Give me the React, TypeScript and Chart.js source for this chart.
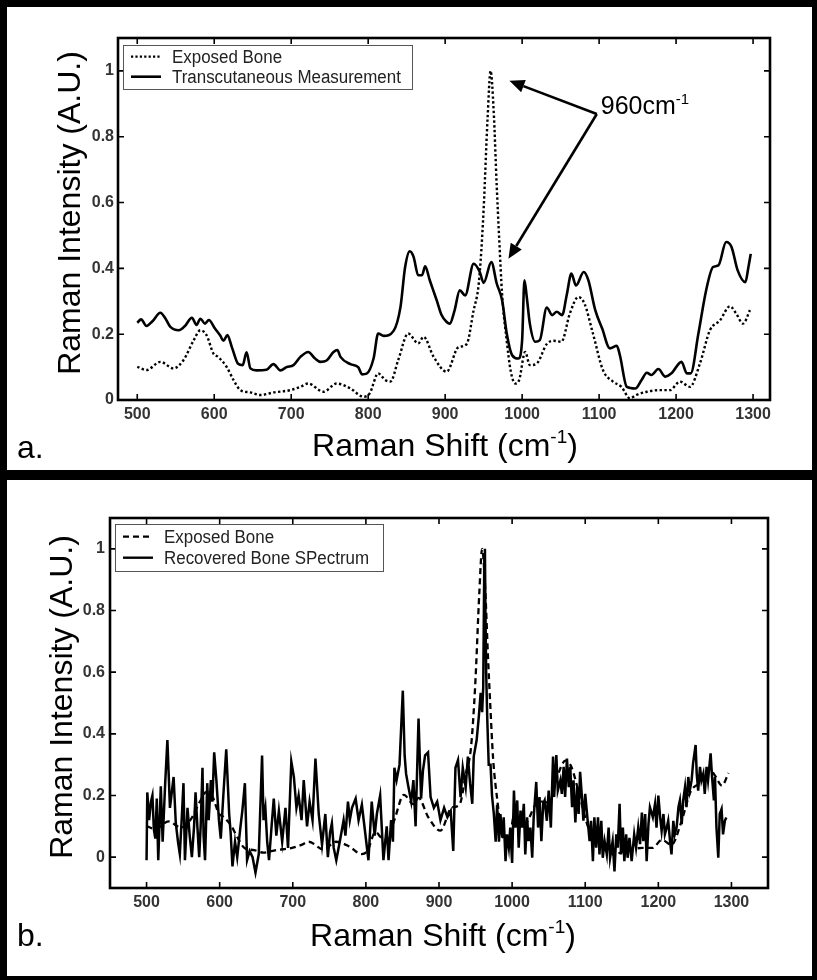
import React, { useEffect, useRef } from 'react';
import { Chart, registerables } from 'chart.js';

Chart.register(...registerables);

// ---------- data ----------
const xTickValues = [500, 600, 700, 800, 900, 1000, 1100, 1200, 1300];
const yTickValues = [0, 0.2, 0.4, 0.6, 0.8, 1];

const legendA = ['Exposed Bone', 'Transcutaneous Measurement'];
const legendB = ['Exposed Bone', 'Recovered Bone SPectrum'];
const yAxisTitle = 'Raman Intensity (A.U.)';
const xAxisTitle = 'Raman Shift (cm';
const xAxisTitleSup = '-1';
const peakLabel = '960cm';
const peakLabelSup = '-1';
const panelLabels = ['a.', 'b.'];

// [Raman shift (cm-1), intensity]
const exposedBone: [number, number][] = [
  [500, 0.101], [512, 0.091], [530, 0.116], [547, 0.096], [560, 0.121], [573, 0.18], [582, 0.212],
  [590, 0.197], [599, 0.141], [605, 0.131], [616, 0.101], [625, 0.061], [634, 0.03], [647, 0.023],
  [660, 0.015], [677, 0.023], [699, 0.03], [712, 0.04], [722, 0.05], [742, 0.025], [759, 0.05],
  [777, 0.035], [794, 0.01], [802, 0.02], [813, 0.081], [822, 0.061], [829, 0.056], [839, 0.121],
  [852, 0.202], [865, 0.172], [872, 0.192], [885, 0.131], [902, 0.086], [917, 0.16], [928, 0.17],
  [937, 0.273], [943, 0.34], [946, 0.42], [950, 0.58], [955, 0.85], [959, 1.0], [963, 0.88],
  [967, 0.65], [970, 0.5], [974, 0.32], [980, 0.18], [985, 0.09], [991, 0.05], [996, 0.06],
  [1004, 0.146], [1010, 0.106], [1019, 0.111], [1032, 0.17], [1041, 0.18], [1051, 0.177],
  [1062, 0.263], [1073, 0.313], [1081, 0.293], [1092, 0.202], [1105, 0.091], [1118, 0.056],
  [1129, 0.04], [1140, 0.005], [1148, 0.015], [1162, 0.025], [1179, 0.03], [1192, 0.03],
  [1205, 0.056], [1218, 0.04], [1231, 0.111], [1244, 0.212], [1257, 0.242], [1270, 0.285],
  [1278, 0.263], [1287, 0.232], [1296, 0.273],
];

const transcutaneous: [number, number][] = [
  [500, 0.235], [505, 0.245], [512, 0.225], [520, 0.24], [530, 0.265], [536, 0.25], [543, 0.222],
  [554, 0.212], [562, 0.225], [571, 0.25], [577, 0.228], [582, 0.247], [588, 0.232], [593, 0.243],
  [601, 0.217], [608, 0.195], [612, 0.18], [617, 0.197], [623, 0.16], [631, 0.11], [637, 0.106],
  [642, 0.145], [647, 0.096], [655, 0.09], [668, 0.092], [677, 0.109], [686, 0.09], [694, 0.1],
  [703, 0.106], [712, 0.131], [722, 0.146], [731, 0.126], [738, 0.116], [746, 0.12], [755, 0.146],
  [760, 0.152], [764, 0.131], [777, 0.109], [787, 0.1], [792, 0.078], [798, 0.08], [807, 0.126],
  [813, 0.202], [820, 0.195], [833, 0.21], [842, 0.283], [848, 0.404], [854, 0.452], [859, 0.435],
  [865, 0.379], [870, 0.379], [874, 0.406], [880, 0.364], [889, 0.303], [895, 0.26], [902, 0.237],
  [906, 0.232], [912, 0.27], [919, 0.333], [926, 0.318], [937, 0.414], [945, 0.389], [950, 0.356],
  [960, 0.419], [967, 0.354], [974, 0.303], [980, 0.202], [987, 0.136], [995, 0.126], [1000, 0.182],
  [1003, 0.364], [1006, 0.313], [1010, 0.232], [1017, 0.177], [1023, 0.182], [1032, 0.281],
  [1039, 0.258], [1045, 0.268], [1052, 0.258], [1058, 0.32], [1064, 0.384], [1070, 0.348],
  [1080, 0.389], [1086, 0.364], [1095, 0.273], [1104, 0.217], [1114, 0.157], [1123, 0.165],
  [1127, 0.136], [1136, 0.04], [1147, 0.035], [1155, 0.06], [1162, 0.083], [1168, 0.076],
  [1177, 0.094], [1186, 0.071], [1194, 0.081], [1207, 0.116], [1214, 0.081], [1219, 0.081],
  [1229, 0.202], [1239, 0.333], [1248, 0.404], [1255, 0.409], [1265, 0.48], [1272, 0.465],
  [1280, 0.394], [1290, 0.358], [1294, 0.404], [1297, 0.444],
];

const recoveredSpectrum: [number, number][] = [
  [500, -0.01], [501, 0.21], [503.5, 0.12], [506, 0.18], [508, 0.2], [510, 0.09], [512, 0.06],
  [514, 0.19], [516, -0.01], [519.5, 0.23], [522, 0.05], [525.5, 0.24], [528.5, 0.38], [532, 0.16],
  [534, 0.2], [537, 0.26], [540, 0.11], [543, 0.05], [545.5, 0.01], [548, 0.12], [550.5, 0.24],
  [552.5, -0.01], [556, 0.16], [559, 0.07], [562, 0.0], [565, 0.1], [567, 0.21], [569.5, 0.1],
  [572, 0.0], [574, 0.1], [576.5, 0.29], [578, 0.07], [580, -0.01], [583, 0.24], [585, 0.12],
  [588, 0.25], [590, 0.18], [592.5, 0.34], [595.5, 0.25], [599, 0.12], [601.5, 0.06], [605, 0.2],
  [609, 0.35], [613, 0.14], [615, 0.08], [617.5, -0.03], [621, 0.05], [624, 0.0], [628.5, 0.1],
  [631, 0.15], [634.5, 0.24], [637.5, -0.01], [641, 0.02], [645, 0.0], [649, -0.05], [653.5, 0.01],
  [658, 0.33], [660, 0.12], [662.5, 0.16], [665, 0.05], [667.5, -0.01], [671, 0.1], [674, 0.19],
  [677.5, 0.07], [681, 0.15], [685.5, 0.05], [690, 0.16], [693.5, 0.03], [698, 0.31], [701.5, 0.26],
  [705, 0.16], [708, 0.2], [712, 0.12], [715, 0.25], [719.5, 0.1], [723, 0.18], [727, 0.12],
  [731, 0.32], [735.5, 0.14], [740, 0.04], [744.5, 0.14], [748, 0.0], [751, 0.08], [753.5, 0.11],
  [756, 0.03], [759.5, -0.01], [765, 0.06], [769.5, 0.12], [772, 0.07], [775.5, 0.18], [778, 0.12],
  [781, 0.16], [786, 0.19], [790, 0.12], [794.5, 0.17], [799, 0.08], [803.5, -0.01], [808, 0.18],
  [812, 0.07], [815, 0.14], [819.5, 0.2], [824, -0.01], [828.5, 0.1], [831, -0.01], [834.5, 0.12],
  [837, 0.05], [839, 0.29], [842, 0.25], [846, 0.3], [850.5, 0.54], [853, 0.33], [855, 0.27],
  [858, 0.23], [862, 0.18], [865, 0.25], [868, 0.1], [872, 0.45], [875.5, 0.19], [878, 0.28],
  [881, 0.33], [885, 0.34], [888.5, 0.195], [893, 0.16], [897.5, 0.18], [902, 0.12], [907, 0.16],
  [911.5, 0.13], [916, 0.15], [919.5, 0.02], [922.5, 0.29], [926, 0.315], [929.5, 0.195],
  [932.5, 0.29], [936.5, 0.227], [939.5, 0.326], [942.5, 0.24], [945.5, 0.173], [947.5, 0.326],
  [951.5, 0.38], [954.5, 0.457], [957, 0.533], [959, 0.47], [960.5, 0.55], [962, 0.97],
  [962.8, 1.0], [963.5, 0.8], [964.5, 0.6], [966, 0.45], [968, 0.3], [970.5, 0.3], [972.5, 0.2],
  [975, 0.14], [977.5, 0.05], [979.5, 0.17], [982, 0.05], [984, 0.14], [986.5, 0.063],
  [988.5, 0.129], [991, -0.013], [993, 0.074], [995.5, 0.031], [997.5, 0.096], [1000, -0.019],
  [1002.5, 0.216], [1004.5, 0.096], [1007, 0.184], [1009, 0.031], [1011.5, 0.151], [1013.5, 0.096],
  [1016, 0.173], [1018, 0.009], [1020.5, 0.129], [1022.5, 0.052], [1025, 0.096], [1027.5, -0.002],
  [1029.5, 0.129], [1033, 0.244], [1035.5, 0.096], [1037.5, 0.195], [1040, 0.052], [1042.5, 0.173],
  [1044.5, 0.184], [1047.5, 0.118], [1050, 0.216], [1053, 0.096], [1056, 0.326], [1057.5, 0.195],
  [1060.5, 0.331], [1062.5, 0.216], [1066, 0.249], [1068, 0.205], [1070.5, 0.293], [1072.5, 0.195],
  [1075, 0.32], [1077.5, 0.227], [1079.5, 0.293], [1082, 0.162], [1084, 0.249], [1086.5, 0.113],
  [1089, 0.227], [1091, 0.14], [1093, 0.277], [1095.5, 0.195], [1097.5, 0.118], [1100, 0.205],
  [1102.5, 0.14], [1106, 0.052], [1108, 0.118], [1110.5, -0.013], [1112.5, 0.129], [1115, 0.031],
  [1117.5, 0.129], [1119.5, 0.009], [1122, 0.118], [1124, -0.002], [1126.5, 0.052], [1129.5, 0.009],
  [1132, 0.096], [1134, -0.002], [1137.5, 0.052], [1140, -0.046], [1142.5, 0.074], [1144.5, 0.031],
  [1147, 0.173], [1149, 0.009], [1151.5, 0.096], [1153.5, -0.013], [1156, 0.074], [1158, -0.002],
  [1160.5, 0.063], [1163.5, -0.013], [1167, 0.074], [1169.5, 0.031], [1172.5, 0.096], [1175, 0.042],
  [1177.5, 0.145], [1179.5, 0.052], [1182, 0.14], [1184, -0.013], [1186.5, 0.107], [1188.5, 0.162],
  [1192.5, 0.129], [1195.5, 0.173], [1197.5, 0.096], [1200, 0.2], [1202.5, 0.129], [1204.5, 0.085],
  [1207, 0.14], [1209, 0.074], [1211.5, 0.096], [1213.5, 0.118], [1216, 0.052], [1218, 0.009],
  [1220.5, 0.118], [1222.5, 0.074], [1225, 0.096], [1227.5, 0.162], [1229.5, 0.184], [1232, 0.107],
  [1234, 0.184], [1236.5, 0.227], [1238.5, 0.162], [1241, 0.26], [1243, 0.216], [1245.5, 0.249],
  [1247.5, 0.304], [1251, 0.364], [1252.5, 0.271], [1254.5, 0.216], [1257, 0.293], [1259, 0.249],
  [1261.5, 0.271], [1263.5, 0.205], [1266, 0.293], [1268, 0.249], [1271.5, 0.337], [1273.5, 0.26],
  [1276, 0.184], [1277.5, 0.26], [1279.5, 0.096], [1282, -0.002], [1284, 0.14], [1286.5, 0.156],
  [1288.5, 0.074], [1291, 0.118], [1293, 0.129],
];

// annotation anchor (data coords of panel a)
const peakArrowFrom: [number, number] = [1097, 0.869];
const peakArrowTips: [number, number][] = [[983.5, 0.97], [982.2, 0.429]];

// ---------- drawing helpers ----------
const FONT = 'Arial, "Liberation Sans", Helvetica, sans-serif';

type Part = { text: string; sup?: boolean };

function drawParts(ctx: CanvasRenderingContext2D, parts: Part[], x: number, y: number, size: number, align: 'left' | 'center') {
  const supSize = Math.round(size * 0.6);
  const widths = parts.map((p) => {
    ctx.font = `${p.sup ? supSize : size}px ${FONT}`;
    return ctx.measureText(p.text).width;
  });
  const total = widths.reduce((a, b) => a + b, 0);
  let cx = align === 'center' ? x - total / 2 : x;
  ctx.textAlign = 'left';
  ctx.textBaseline = 'alphabetic';
  parts.forEach((p, i) => {
    ctx.font = `${p.sup ? supSize : size}px ${FONT}`;
    ctx.fillText(p.text, cx, p.sup ? y - size * 0.4 : y);
    cx += widths[i];
  });
}

function drawArrow(ctx: CanvasRenderingContext2D, x0: number, y0: number, x1: number, y1: number) {
  const ang = Math.atan2(y1 - y0, x1 - x0);
  const headLen = 15;
  const headHalf = 6.5;
  const bx = x1 - headLen * Math.cos(ang);
  const by = y1 - headLen * Math.sin(ang);
  ctx.beginPath();
  ctx.moveTo(x0, y0);
  ctx.lineTo(bx, by);
  ctx.stroke();
  ctx.beginPath();
  ctx.moveTo(x1, y1);
  ctx.lineTo(bx + headHalf * Math.sin(ang), by - headHalf * Math.cos(ang));
  ctx.lineTo(bx - headHalf * Math.sin(ang), by + headHalf * Math.cos(ang));
  ctx.closePath();
  ctx.fill();
}

const decorPlugin = {
  id: 'decor',
  afterDraw(chart: any, _args: any, opts: any) {
    const { ctx, chartArea: ca, scales } = chart;
    const xs = scales.x;
    const ys = scales.y;
    ctx.save();
    ctx.setLineDash([]);
    ctx.strokeStyle = '#000';
    ctx.fillStyle = '#000';

    // inward ticks on all four sides
    ctx.lineWidth = 1.6;
    ctx.beginPath();
    for (const v of xTickValues) {
      const px = xs.getPixelForValue(v);
      ctx.moveTo(px, ca.bottom);
      ctx.lineTo(px, ca.bottom - 6);
      ctx.moveTo(px, ca.top);
      ctx.lineTo(px, ca.top + 6);
    }
    for (const v of yTickValues) {
      const py = ys.getPixelForValue(v);
      ctx.moveTo(ca.left, py);
      ctx.lineTo(ca.left + 6, py);
      ctx.moveTo(ca.right, py);
      ctx.lineTo(ca.right - 6, py);
    }
    ctx.stroke();

    // axes box
    ctx.lineWidth = 2.6;
    ctx.strokeRect(ca.left, ca.top, ca.right - ca.left, ca.bottom - ca.top);

    // legend
    const lg = opts.legend;
    if (lg) {
      const bx = Math.round(ca.left + lg.dx) + 0.5;
      const by = Math.round(ca.top + lg.dy) + 0.5;
      ctx.fillStyle = '#fff';
      ctx.fillRect(bx, by, lg.w, lg.h);
      ctx.strokeStyle = '#555';
      ctx.lineWidth = 1;
      ctx.strokeRect(bx, by, lg.w, lg.h);
      lg.rows.forEach((row: any, i: number) => {
        const ry = ca.top + lg.rowY[i];
        ctx.strokeStyle = '#000';
        ctx.lineWidth = row.width;
        ctx.setLineDash(row.dash);
        ctx.beginPath();
        ctx.moveTo(ca.left + 13, ry);
        ctx.lineTo(ca.left + 43, ry);
        ctx.stroke();
        ctx.setLineDash([]);
        ctx.fillStyle = '#222';
        ctx.font = `18px ${FONT}`;
        ctx.textAlign = 'left';
        ctx.textBaseline = 'alphabetic';
        ctx.save();
        ctx.translate(ca.left + 54, ry + 6.6);
        ctx.scale(0.94, 1);
        ctx.fillText(row.label, 0, 0);
        ctx.restore();
      });
    }

    // axis titles
    ctx.fillStyle = '#000';
    drawParts(ctx, [{ text: xAxisTitle }, { text: xAxisTitleSup, sup: true }, { text: ')' }],
      (ca.left + ca.right) / 2 + opts.xTitleShift, ca.bottom + opts.xTitleGap, 32, 'center');
    ctx.save();
    ctx.translate(ca.left - 38, (ca.top + ca.bottom) / 2 - 6);
    ctx.rotate(-Math.PI / 2);
    ctx.font = `32px ${FONT}`;
    ctx.textAlign = 'center';
    ctx.textBaseline = 'alphabetic';
    ctx.fillText(yAxisTitle, 0, 0);
    ctx.restore();

    // panel label
    ctx.font = `32px ${FONT}`;
    ctx.textAlign = 'left';
    ctx.fillText(opts.panelLabel, 10, ca.bottom + 58);

    // annotation
    if (opts.annotate) {
      const ox = xs.getPixelForValue(peakArrowFrom[0]);
      const oy = ys.getPixelForValue(peakArrowFrom[1]);
      ctx.lineWidth = 2.6;
      ctx.strokeStyle = '#000';
      ctx.fillStyle = '#000';
      for (const t of peakArrowTips) {
        drawArrow(ctx, ox, oy, xs.getPixelForValue(t[0]), ys.getPixelForValue(t[1]));
      }
      drawParts(ctx, [{ text: peakLabel }, { text: peakLabelSup, sup: true }], ox + 4, oy, 25, 'left');
    }
    ctx.restore();
  },
};

function baseScales(xMin: number, xMax: number, yMin: number, yMax: number, yWidth: number, xHeight: number, yPad: number) {
  const tickFont = { family: FONT, size: 16, weight: 'bold' as const };
  return {
    x: {
      type: 'linear' as const,
      min: xMin,
      max: xMax,
      grid: { display: false, drawTicks: false, tickLength: 0 },
      border: { display: false },
      ticks: {
        font: tickFont,
        color: '#333',
        padding: 5,
        maxRotation: 0,
        autoSkip: false,
        callback: (v: any) => String(v),
      },
      afterBuildTicks: (s: any) => {
        s.ticks = xTickValues.map((v) => ({ value: v }));
      },
      afterFit: (s: any) => {
        s.height = xHeight;
      },
    },
    y: {
      type: 'linear' as const,
      min: yMin,
      max: yMax,
      grid: { display: false, drawTicks: false, tickLength: 0 },
      border: { display: false },
      ticks: {
        font: tickFont,
        color: '#333',
        padding: yPad,
        autoSkip: false,
        callback: (v: any) => String(Math.round(Number(v) * 10) / 10),
      },
      afterBuildTicks: (s: any) => {
        s.ticks = yTickValues.map((v) => ({ value: v }));
      },
      afterFit: (s: any) => {
        s.width = yWidth;
      },
    },
  };
}

const toXY = (arr: [number, number][]) => arr.map(([x, y]) => ({ x, y }));

export default function App() {
  const refA = useRef<HTMLCanvasElement | null>(null);
  const refB = useRef<HTMLCanvasElement | null>(null);

  useEffect(() => {
    if (!refA.current || !refB.current) return;
    const chartA = new Chart(refA.current, {
      type: 'line',
      data: {
        datasets: [
          {
            label: legendA[0],
            data: toXY(exposedBone),
            borderColor: '#000',
            borderWidth: 2.4,
            borderDash: [2.4, 2.4],
            pointRadius: 0,
            cubicInterpolationMode: 'monotone',
            fill: false,
          },
          {
            label: legendA[1],
            data: toXY(transcutaneous),
            borderColor: '#000',
            borderWidth: 2.6,
            pointRadius: 0,
            cubicInterpolationMode: 'monotone',
            fill: false,
          },
        ],
      },
      options: {
        animation: false,
        responsive: false,
        devicePixelRatio: 1,
        layout: { padding: { top: 31, right: 42, left: 0, bottom: 0 } },
        scales: baseScales(475, 1322, 0, 1.1, 111, 70, 4) as any,
        plugins: {
          legend: { display: false },
          tooltip: { enabled: false },
          decor: {
            legend: {
              dx: 5, dy: 7, w: 289, h: 44, rowY: [18.7, 38.7],
              rows: [
                { label: legendA[0], dash: [2.2, 2.2], width: 2.2 },
                { label: legendA[1], dash: [], width: 2.6 },
              ],
            },
            xTitleShift: 1,
            xTitleGap: 56,
            panelLabel: panelLabels[0],
            annotate: true,
          },
        } as any,
      },
      plugins: [decorPlugin],
    });

    const chartB = new Chart(refB.current, {
      type: 'line',
      data: {
        datasets: [
          {
            label: legendB[0],
            data: toXY(exposedBone),
            borderColor: '#000',
            borderWidth: 2.3,
            borderDash: [6, 4],
            pointRadius: 0,
            cubicInterpolationMode: 'monotone',
            fill: false,
          },
          {
            label: legendB[1],
            data: toXY(recoveredSpectrum),
            borderColor: '#000',
            borderWidth: 2.5,
            pointRadius: 0,
            tension: 0,
            fill: false,
          },
        ],
      },
      options: {
        animation: false,
        responsive: false,
        devicePixelRatio: 1,
        layout: { padding: { top: 38, right: 44, left: 0, bottom: 0 } },
        scales: baseScales(450, 1350, -0.1, 1.1, 103, 88, 5) as any,
        plugins: {
          legend: { display: false },
          tooltip: { enabled: false },
          decor: {
            legend: {
              dx: 5, dy: 6, w: 268, h: 47, rowY: [18.7, 39.7],
              rows: [
                { label: legendB[0], dash: [6, 4], width: 2.2 },
                { label: legendB[1], dash: [], width: 2.4 },
              ],
            },
            xTitleShift: 4,
            xTitleGap: 58,
            panelLabel: panelLabels[1],
            annotate: false,
          },
        } as any,
      },
      plugins: [decorPlugin],
    });

    return () => {
      chartA.destroy();
      chartB.destroy();
    };
  }, []);

  return (
    <div style={{ position: 'absolute', left: 0, top: 0, width: 817, height: 980, background: '#fff' }}>
      <div
        style={{
          position: 'absolute', left: 0, top: 0, width: 817, height: 475, boxSizing: 'border-box',
          borderTop: '7px solid #000', borderLeft: '7px solid #000', borderRight: '5px solid #000',
          borderBottom: '5px solid #000', background: '#fff',
        }}
      >
        <canvas ref={refA} width={805} height={463} style={{ position: 'absolute', left: 0, top: 0, width: 805, height: 463 }} />
      </div>
      <div
        style={{
          position: 'absolute', left: 0, top: 475, width: 817, height: 505, boxSizing: 'border-box',
          borderTop: '5px solid #000', borderLeft: '7px solid #000', borderRight: '5px solid #000',
          borderBottom: '4px solid #000', background: '#fff',
        }}
      >
        <canvas ref={refB} width={805} height={496} style={{ position: 'absolute', left: 0, top: 0, width: 805, height: 496 }} />
      </div>
    </div>
  );
}
